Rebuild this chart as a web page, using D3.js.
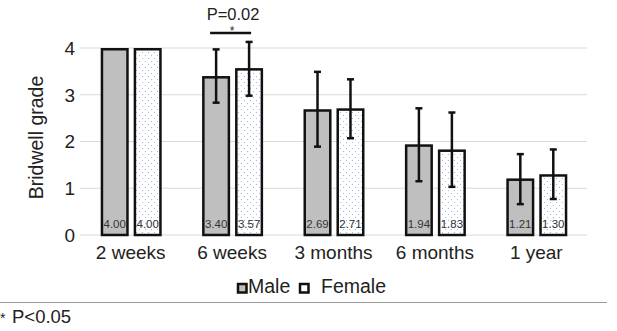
<!DOCTYPE html>
<html>
<head>
<meta charset="utf-8">
<script src="https://cdn.jsdelivr.net/npm/d3@7"></script>
<style>
  body { margin: 0; background: #fff; }
  svg { display: block; font-family: "Liberation Sans", Arial, sans-serif; }
</style>
</head>
<body>
<svg id="chart" width="617" height="331"></svg>
<script>
const categories = ["2 weeks", "6 weeks", "3 months", "6 months", "1 year"];
const groups = ["Male", "Female"];
const maleMeans = [4.00, 3.40, 2.69, 1.94, 1.21];
const femaleMeans = [4.00, 3.57, 2.71, 1.83, 1.30];
// error bar ends (lower, upper)
const maleLow = [4.00, 2.83, 1.89, 1.15, 0.66];
const maleHigh = [4.00, 3.97, 3.49, 2.71, 1.73];
const femaleLow = [4.00, 2.98, 2.07, 1.03, 0.77];
const femaleHigh = [4.00, 4.13, 3.33, 2.62, 1.83];
const yTicks = [0, 1, 2, 3, 4];

const svg = d3.select("#chart");

// dotted fill for the female bars
const defs = svg.append("defs");
const pat = defs.append("pattern")
  .attr("id", "dots")
  .attr("patternUnits", "userSpaceOnUse")
  .attr("width", 6)
  .attr("height", 6);
pat.append("rect").attr("width", 6).attr("height", 6).attr("fill", "#fff");
pat.append("circle").attr("cx", 1.5).attr("cy", 1.5).attr("r", 0.6).attr("fill", "#8eaee6");
pat.append("circle").attr("cx", 4.5).attr("cy", 4.5).attr("r", 0.6).attr("fill", "#8eaee6");

const x = d3.scaleBand().domain(categories).range([80, 587]);
const xSub = d3.scaleBand()
  .domain(groups)
  .range([x.bandwidth() / 2 - 30, x.bandwidth() / 2 + 31])
  .paddingInner(0.15);
const y = d3.scaleLinear().domain([0, 4]).range([235, 48]);

// gridlines
svg.append("g")
  .selectAll("line")
  .data(yTicks)
  .join("line")
  .attr("x1", 80)
  .attr("x2", 587)
  .attr("y1", (d) => y(d))
  .attr("y2", (d) => y(d))
  .attr("stroke", "#d9d9d9")
  .attr("stroke-width", 1);

// y tick labels
svg.append("g")
  .selectAll("text")
  .data(yTicks)
  .join("text")
  .attr("x", 75)
  .attr("y", (d) => y(d))
  .attr("dy", "0.36em")
  .attr("text-anchor", "end")
  .attr("font-size", 19)
  .attr("fill", "#222")
  .text((d) => d);

svg.append("text")
  .attr("transform", "translate(43,137.5) rotate(-90)")
  .attr("text-anchor", "middle")
  .attr("font-size", 19.5)
  .attr("fill", "#222")
  .text("Bridwell grade");

// x labels
svg.append("g")
  .selectAll("text")
  .data(categories)
  .join("text")
  .attr("x", (d) => x(d) + x.bandwidth() / 2)
  .attr("y", 259)
  .attr("text-anchor", "middle")
  .attr("font-size", 19)
  .attr("fill", "#222")
  .text((d) => d);

const rows = categories.map((c, i) => [
  { cat: c, key: "Male", v: maleMeans[i], lo: maleLow[i], hi: maleHigh[i] },
  { cat: c, key: "Female", v: femaleMeans[i], lo: femaleLow[i], hi: femaleHigh[i] },
]).flat();

const bx = (d) => x(d.cat) + xSub(d.key);

svg.append("g")
  .selectAll("rect")
  .data(rows)
  .join("rect")
  .attr("x", (d) => bx(d) + 1.25)
  .attr("y", (d) => y(d.v) + 1.25)
  .attr("width", xSub.bandwidth() - 2.5)
  .attr("height", (d) => y(0) - y(d.v) - 1.25)
  .attr("fill", (d) => d.key === "Male" ? "#bfbfbf" : "url(#dots)")
  .attr("stroke", "#111")
  .attr("stroke-width", 2.5);

// value labels at bar bottoms
svg.append("g")
  .selectAll("text")
  .data(rows)
  .join("text")
  .attr("x", (d) => bx(d) + xSub.bandwidth() / 2)
  .attr("y", 228)
  .attr("text-anchor", "middle")
  .attr("font-size", 11.5)
  .attr("fill", "#333")
  .text((d) => d.v.toFixed(2));

// error bars
const eb = svg.append("g")
  .selectAll("g")
  .data(rows.filter((d) => d.hi > d.lo))
  .join("g")
  .attr("stroke", "#111")
  .attr("stroke-width", 2.5);
eb.append("line")
  .attr("x1", (d) => bx(d) + xSub.bandwidth() / 2)
  .attr("x2", (d) => bx(d) + xSub.bandwidth() / 2)
  .attr("y1", (d) => y(d.lo))
  .attr("y2", (d) => y(d.hi));
eb.selectAll("line.cap")
  .data((d) => [d.lo, d.hi].map((v) => ({ d, v })))
  .join("line")
  .attr("class", "cap")
  .attr("x1", (e) => bx(e.d) + xSub.bandwidth() / 2 - 3.5)
  .attr("x2", (e) => bx(e.d) + xSub.bandwidth() / 2 + 3.5)
  .attr("y1", (e) => y(e.v))
  .attr("y2", (e) => y(e.v));

// significance bracket at 6 weeks
const sigX = x("6 weeks") + x.bandwidth() / 2;
svg.append("line")
  .attr("x1", sigX - 22)
  .attr("x2", sigX + 19)
  .attr("y1", 33)
  .attr("y2", 33)
  .attr("stroke", "#111")
  .attr("stroke-width", 2.5);
svg.append("text")
  .attr("x", sigX + 1)
  .attr("y", 20)
  .attr("text-anchor", "middle")
  .attr("font-size", 16.5)
  .attr("fill", "#222")
  .text("P=0.02");
svg.append("text")
  .attr("x", sigX)
  .attr("y", 35)
  .attr("text-anchor", "middle")
  .attr("font-size", 12)
  .attr("fill", "#222")
  .text("*");

// legend
const legend = svg.append("g");
const legItems = [
  { key: "Male", sx: 238, tx: 248 },
  { key: "Female", sx: 300, tx: 321 },
];
legend.selectAll("rect")
  .data(legItems)
  .join("rect")
  .attr("x", (d) => d.sx)
  .attr("y", 284)
  .attr("width", 8.5)
  .attr("height", 8.5)
  .attr("fill", (d) => d.key === "Male" ? "#bfbfbf" : "#fff")
  .attr("stroke", "#111")
  .attr("stroke-width", 2.5);
legend.selectAll("text")
  .data(legItems)
  .join("text")
  .attr("x", (d) => d.tx)
  .attr("y", 292.5)
  .attr("font-size", 19.5)
  .attr("fill", "#222")
  .text((d) => d.key);

// footnote
svg.append("line")
  .attr("x1", 0)
  .attr("x2", 607)
  .attr("y1", 302.5)
  .attr("y2", 302.5)
  .attr("stroke", "#999")
  .attr("stroke-width", 1);
svg.append("text")
  .attr("x", 0)
  .attr("y", 323)
  .attr("font-size", 14)
  .attr("fill", "#222")
  .text("*");
svg.append("text")
  .attr("x", 12)
  .attr("y", 323)
  .attr("font-size", 18.5)
  .attr("fill", "#222")
  .text("P<0.05");
</script>
</body>
</html>
